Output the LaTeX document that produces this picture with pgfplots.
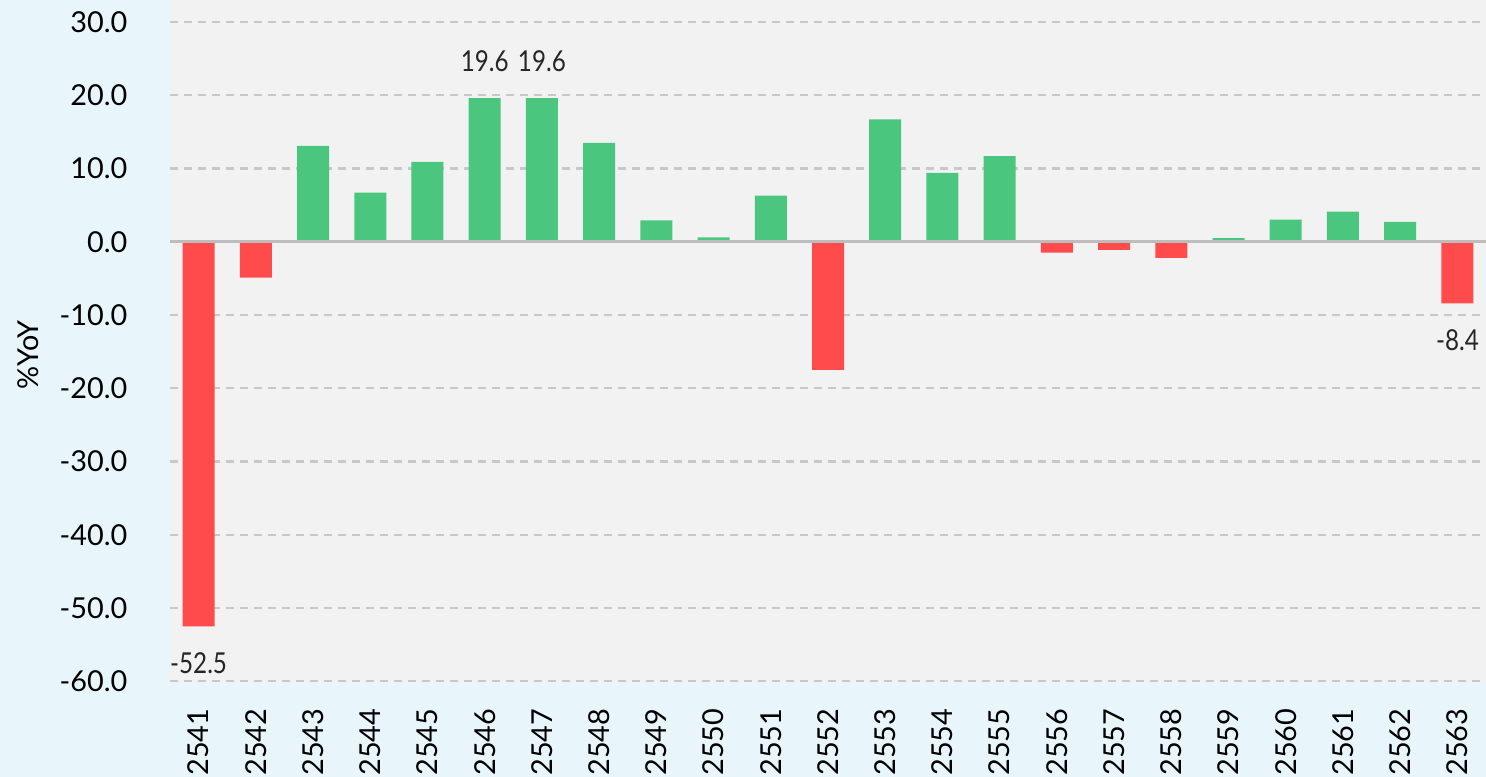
\documentclass[border=0pt]{standalone}
\usepackage{fontspec}
\setmainfont{Lato}
\newfontfamily\labelfont[FakeStretch=0.84]{Lato}
\usepackage{pgfplots}
\pgfplotsset{compat=1.18}

\definecolor{bgblue}{HTML}{E8F6FB}
\definecolor{plotgray}{HTML}{F2F2F2}
\definecolor{barup}{HTML}{4AC67F}
\definecolor{bardown}{HTML}{FF4B4B}
\definecolor{gridgray}{HTML}{C8C8C8}
\definecolor{zerogray}{HTML}{BDBDBD}

\begin{document}
\begin{tikzpicture}
\fill[bgblue] (-1.70,-0.95) rectangle (13.16,6.82);
\begin{axis}[
  at={(0,0)}, anchor=south west,
  scale only axis,
  width=13.16cm, height=6.82cm,
  xmin=-0.5, xmax=22.5,
  ymin=-60.1, ymax=33,
  axis background/.style={fill=plotgray},
  axis line style={draw=none},
  major tick length=0pt,
  ytick={-60,-50,...,30},
  xtick={0,...,22},
  xticklabels={2541,2542,2543,2544,2545,2546,2547,2548,2549,2550,2551,2552,2553,2554,2555,2556,2557,2558,2559,2560,2561,2562,2563},
  ymajorgrids,
  grid style={dash pattern=on 0.8mm off 0.6mm, gridgray, line width=0.6pt},
  /pgf/number format/assume math mode=true,
  yticklabel={\pgfmathprintnumber[fixed,fixed zerofill,precision=1]{\tick}},
  y tick label style={font=\fontsize{8.2}{9.6}\selectfont, anchor=east, inner sep=0pt, xshift=-4.2mm},
  x tick label style={font=\fontsize{8.2}{9.6}\selectfont, yshift=-2.6mm, rotate=90, anchor=east, inner sep=0pt},
  ylabel={\%YoY},
  every axis y label/.style={at={(axis description cs:-0.108,0.48)}, rotate=90, anchor=center, font=\fontsize{8.2}{9.6}\selectfont},
  ybar, bar width=3.2mm, bar shift=0pt,
]
% positive years
\addplot[fill=barup, draw=none] coordinates {
  (2,13.1) (3,6.7) (4,10.9) (5,19.6) (6,19.6) (7,13.5) (8,2.9) (9,0.6)
  (10,6.3) (12,16.7) (13,9.4) (14,11.7) (18,0.5) (19,3.0) (20,4.1) (21,2.7)
};
% negative years
\addplot[fill=bardown, draw=none] coordinates {
  (0,-52.5) (1,-4.9) (11,-17.5) (15,-1.5) (16,-1.1) (17,-2.2) (22,-8.4)
};
% data labels
\addplot[draw=none, fill=none, forget plot,
  nodes near coords, point meta=y,
  every node near coord/.append style={font=\labelfont\fontsize{8.2}{9.6}\selectfont, text=black!85, yshift=2.6mm, inner sep=0pt},
  nodes near coords={\pgfmathprintnumber[fixed,fixed zerofill,precision=1]{\pgfplotspointmeta}}
] coordinates {(5,19.6) (6,19.6)};
\addplot[draw=none, fill=none, forget plot,
  nodes near coords, point meta=y,
  every node near coord/.append style={font=\labelfont\fontsize{8.2}{9.6}\selectfont, text=black!85, yshift=-2.6mm, inner sep=0pt},
  nodes near coords={\pgfmathprintnumber[fixed,fixed zerofill,precision=1]{\pgfplotspointmeta}}
] coordinates {(0,-52.5) (22,-8.4)};
\draw[zerogray, line width=0.9pt] (axis cs:-0.5,0) -- (axis cs:22.5,0);
\end{axis}
\pgfresetboundingbox
\path[use as bounding box] (-1.70,-0.95) rectangle (13.16,6.82);
\end{tikzpicture}
\end{document}
